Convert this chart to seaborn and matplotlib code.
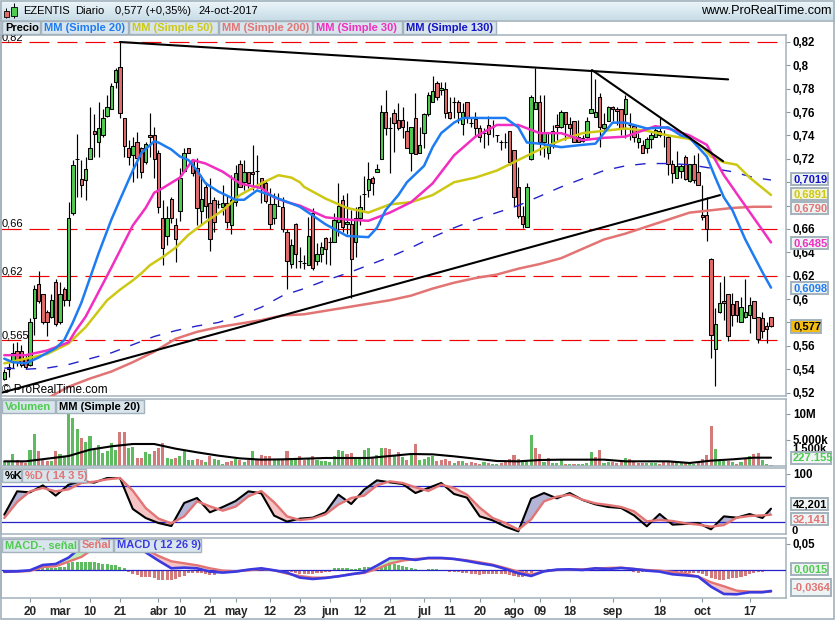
import numpy as np
import pandas as pd
import seaborn as sns
import matplotlib.pyplot as plt
from matplotlib.patches import Rectangle

# Data
opens = [.532,.540,.546,.556,.556,.550,.544,.584,.613,.604,
         .589,.585,.615,.580,.609,.599,.674,.720,.703,.702,
         .720,.744,.734,.740,.757,.763,.786,.799,.755,.729,
         .723,.734,.729,.717,.740,.740,.725,.669,.654,.686,
         .663,.675,.710,.729,.719,.712,.675,.696,.682,.685,
         .681,.679,.682,.663,.683,.716,.700,.709,.709,.710,
         .704,.699,.681,.669,.680,.679,.657,.630,.664,.633,
         .631,.629,.674,.633,.639,.652,.649,.649,.666,.685,
         .664,.664,.649,.669,.690,.693,.704,.709,.720,.760,
         .746,.759,.753,.753,.744,.725,.755,.725,.742,.758,
         .769,.785,.779,.780,.760,.769,.769,.750,.769,.751,
         .754,.746,.742,.749,.747,.740,.734,.734,.744,.728,
         .696,.671,.662,.720,.763,.769,.734,.725,.731,.749,
         .747,.760,.750,.752,.739,.735,.739,.759,.756,.773,
         .746,.752,.764,.763,.763,.758,.749,.748,.734,.732,
         .729,.737,.739,.744,.741,.739,.716,.704,.710,.722,
         .701,.716,.709,.672,.672,.634,.557,.589,.598,.604,
         .596,.598,.580,.585,.586,.598,.585,.584,.577,.585]
highs = [.540,.545,.562,.563,.561,.552,.584,.612,.624,.604,
         .591,.604,.617,.615,.610,.683,.719,.741,.719,.722,
         .764,.758,.769,.763,.775,.785,.798,.820,.755,.736,
         .739,.743,.730,.734,.759,.747,.728,.685,.680,.687,
         .669,.712,.729,.729,.719,.721,.706,.700,.704,.687,
         .685,.698,.689,.706,.715,.719,.719,.709,.732,.723,
         .704,.702,.695,.691,.691,.687,.660,.651,.665,.645,
         .638,.670,.678,.648,.649,.653,.653,.674,.699,.689,
         .691,.676,.679,.689,.705,.717,.705,.716,.766,.779,
         .756,.763,.768,.764,.752,.747,.776,.747,.759,.777,
         .791,.787,.786,.786,.773,.773,.770,.768,.769,.756,
         .760,.749,.746,.757,.753,.740,.736,.742,.744,.728,
         .713,.680,.699,.775,.798,.775,.775,.742,.749,.758,
         .762,.760,.756,.752,.753,.740,.756,.796,.788,.776,
         .759,.765,.765,.764,.763,.775,.759,.749,.742,.736,
         .739,.743,.746,.755,.745,.740,.719,.727,.716,.723,
         .716,.723,.725,.698,.687,.635,.592,.615,.620,.604,
         .605,.598,.602,.617,.602,.598,.585,.589,.580,.585]
lows = [.531,.533,.541,.543,.542,.540,.543,.569,.597,.579,
        .568,.584,.577,.579,.594,.594,.672,.687,.687,.685,
        .720,.722,.722,.739,.756,.763,.781,.755,.722,.715,
        .700,.704,.704,.716,.722,.704,.674,.629,.646,.665,
        .632,.667,.709,.725,.705,.663,.663,.669,.641,.657,
        .678,.672,.661,.656,.680,.696,.693,.695,.693,.695,
        .682,.682,.660,.664,.680,.657,.609,.627,.627,.627,
        .626,.629,.625,.629,.632,.630,.629,.649,.654,.657,
        .656,.601,.636,.663,.676,.687,.689,.709,.720,.740,
        .708,.726,.745,.738,.729,.710,.724,.725,.729,.757,
        .769,.770,.775,.755,.754,.755,.751,.740,.751,.747,
        .739,.734,.729,.732,.739,.734,.728,.729,.715,.680,
        .669,.661,.662,.719,.763,.723,.722,.720,.729,.736,
        .746,.736,.738,.734,.734,.734,.738,.759,.756,.730,
        .745,.752,.752,.749,.740,.738,.736,.734,.729,.725,
        .725,.729,.739,.739,.730,.706,.699,.704,.704,.702,
        .700,.699,.698,.668,.650,.550,.526,.588,.582,.564,
        .577,.580,.580,.584,.571,.584,.562,.567,.562,.576]
closes = [.538,.542,.554,.546,.544,.542,.580,.609,.598,.580,
          .580,.599,.579,.604,.599,.669,.715,.720,.698,.711,
          .729,.741,.746,.755,.764,.782,.796,.759,.731,.722,
          .731,.721,.709,.733,.739,.720,.679,.644,.669,.669,
          .651,.704,.725,.725,.708,.678,.686,.680,.651,.666,
          .681,.682,.666,.685,.708,.696,.709,.699,.707,.710,
          .695,.684,.664,.681,.680,.660,.633,.646,.639,.633,
          .631,.654,.627,.639,.645,.643,.649,.668,.680,.662,
          .666,.634,.669,.679,.690,.703,.699,.711,.760,.746,
          .746,.751,.746,.747,.729,.747,.724,.732,.758,.775,
          .778,.773,.781,.759,.755,.769,.760,.760,.756,.751,
          .746,.739,.742,.741,.747,.740,.734,.734,.717,.687,
          .671,.664,.696,.773,.769,.734,.742,.733,.744,.747,
          .760,.750,.746,.734,.734,.738,.752,.763,.760,.747,
          .750,.764,.763,.761,.746,.771,.749,.739,.738,.725,
          .737,.740,.745,.740,.741,.716,.708,.714,.714,.703,
          .716,.702,.698,.670,.660,.569,.579,.597,.597,.568,
          .586,.586,.593,.589,.595,.584,.566,.573,.574,.577]

ma_days = list(range(0, 180, 5)) + [179]
mm20_days = [0,2,5,8,12,14,16,18,20,22,25,27,30,32,35,36,39,41,43,45,47,50,54,56,59,62,64,69,75,80,85,87,89,92,
             94,96,98,100,102,105,107,115,117,120,122,125,130,135,138,140,142,145,150,155,158,160,164,166,168,
             170,173,177,179]
mm20 = [.549,.546,.545,.550,.558,.565,.580,.597,.618,.639,.668,.685,.710,.725,.735,.734,.728,.722,.719,.710,.699,
        .692,.685,.685,.693,.689,.686,.679,.664,.654,.653,.661,.676,.689,.700,.707,.714,.730,.742,.751,.755,.755,
        .755,.747,.734,.733,.730,.732,.733,.742,.751,.751,.746,.747,.740,.738,.722,.704,.687,.676,.651,.623,.6098]
mm30_days = [0,5,10,15,16.5,19,22,25,30,33,35,37,41,44,47,51,55,60,63,66,69,75,80,85,90,95,100,105,110,115,120,125,
             130,135,140,145,152,155,160,164,166,168,172,177,179]
mm30 = [.552,.552,.556,.563,.572,.585,.606,.627,.663,.678,.691,.695,.704,.719,.716,.709,.699,.695,.687,.683,.680,
        .670,.668,.667,.674,.683,.699,.723,.739,.749,.749,.742,.742,.736,.738,.739,.748,.746,.740,.732,.719,.706,
        .685,.659,.6485]
mm50_days = [0,5,10,15,19,24,27,30,32,34,37,40,43,47,51,55,60,64,67,69,70,75,80,85,90,95,100,105,110,115,120,125,
             130,135,140,145,150,155,160,163,165,168,171,174,179]
mm50 = [.545,.549,.553,.562,.576,.599,.608,.616,.622,.629,.636,.644,.655,.666,.676,.689,.699,.706,.704,.700,.696,
        .686,.678,.674,.681,.683,.689,.700,.704,.710,.719,.728,.736,.742,.744,.746,.744,.740,.737,.730,.722,.717,
        .715,.704,.6891]
mm130 = [.541,.540,.541,.544,.549,.554,.561,.568,.573,.577,.580,.586,.593,.603,.609,.616,.622,.629,.636,
         .644,.653,.661,.668,.674,.680,.688,.696,.703,.710,.714,.716,.716,.715,.712,.709,.704,.7019]
mm200 = [.503,.509,.515,.525,.532,.538,.546,.555,.566,.572,.576,.579,.582,.586,.587,.590,.593,.596,.599,
         .603,.609,.614,.618,.621,.626,.630,.635,.643,.651,.656,.662,.668,.674,.676,.678,.679,.6790]
red_levels = [.82, .66, .62, .565]
trend_days = [[27, 169], [-0.5, 167.1], [137.2, 167.8]]
trend_vals = [[.820, .788], [.520, .689], [.796, .718]]

volume = [.90,.96,2.37,1.09,.96,.58,3.01,6.09,2.82,1.41,.96,.90,2.82,2.37,1.73,11.5,9.23,7.05,5.38,4.62,
          5.71,3.01,4.10,2.5,2.82,4.42,3.01,6.47,6.47,3.53,3.65,1.54,1.54,2.69,2.37,2.82,3.46,4.42,1.54,1.41,
          1.6,1.86,2.82,1.09,1.09,1.41,1.09,.77,1.92,1.41,1.15,.45,.77,.96,1.41,1.22,.77,1.09,2.82,1.28,
          2.05,1.86,1.86,1.09,1.09,1.09,2.82,1.54,1.28,1.86,1.09,1.6,1.86,1.09,.96,.96,.77,1.92,3.01,2.82,
          2.37,2.5,1.6,1.6,3.01,3.46,1.6,2.05,3.46,3.46,3.33,2.18,2.69,1.73,1.22,2.05,4.17,1.22,1.41,1.73,
          1.92,.96,1.09,1.28,.96,.51,.90,.96,.64,.71,.51,.38,.71,.51,.32,.32,.58,.90,1.28,2.05,
          1.28,.90,.96,5.90,3.46,2.24,.71,1.47,.51,.51,1.41,.32,.45,.32,.32,.32,.51,2.63,1.67,3.01,
          .58,.71,.71,.51,.77,1.47,1.28,.83,.64,.58,.64,.64,.64,.32,.77,.96,.77,.71,.51,.58,
          .83,.45,.58,1.28,2.05,7.69,3.21,1.41,.96,.96,.71,.38,.71,1.28,1.86,2.24,2.44,1.09,.32,.23]
vol_sides = ("gggrrrggrr" "rgrgggggrg" "gggggggrrg" "grrggrrrgg" "rggggrrgrg" "ggrrgrgrgr"
             "rrrggrrggr" "rgrggggggg" "rrggggrggr" "rgrgrgrggg" "grrrrgrgrr" "rrgrggrrrr"
             "rgggrrgrgg" "grgrggggrr" "ggrrrgrrrr" "gggrrrrggr" "ggrrrrgggr" "grgrgrrggg")
vol_mm20 = [.90,.90,1.41,1.92,3.14,3.78,4.23,4.23,3.33,2.63,1.99,1.47,1.22,1.28,1.41,1.54,1.54,1.54,1.92,
            2.31,2.24,1.86,1.41,.96,.90,1.15,1.22,1.22,1.22,.90,.90,.90,.58,1.03,1.28,1.60,1.60]

osc_days = list(range(0, 178, 3)) + [179]
stoch_k = [32.2,71.1,69.4,81.1,63.9,82.2,88.3,85.6,93.3,93.3,41.7,26.7,18.3,13.3,51.7,60,36.1,45,55,71.1,
           67.8,30.6,20.6,25.6,27.2,36.1,65.6,50,73.9,89.4,86.1,83.3,68.3,76.7,85,66.7,60.6,29.4,22.8,12.2,
           4.4,58.9,68.3,59.4,68.3,56.7,49.4,45,43.3,31.1,12.8,33.3,15.6,16.7,18.3,7.8,29.4,27.2,33.3,26.7,42.2]
stoch_d = [26.7,53.3,71.1,76.7,71.1,74.4,85,87.2,91.1,93.3,72.2,43.3,25.6,17.8,29.4,54.4,46.1,38.9,45.6,62.8,
           71.7,52.8,29.4,23.3,25.6,32.8,48.9,60,63.9,81.1,87.8,85,77.8,71.7,82.2,76.7,65.6,43.9,26.7,18.3,
           7.2,24.4,54.4,62.2,65.6,57.2,51.1,48.3,45,37.8,21.1,23.3,21.7,17.8,15.6,12.2,15,27.2,30,31.1,32.1]
macd_line = [-.0025,-.0019,0,.0101,.0120,.0241,.0444,.0545,.0609,.0609,.0514,.0342,.0184,.0038,.0051,.0038,
             -.0025,-.0044,-.0025,.0013,.0038,0,-.0044,-.0139,-.0165,-.0146,-.0114,-.0076,-.0038,.0089,.0228,
             .0228,.0197,.0235,.0235,.0216,.0178,.0133,.0095,.0025,-.0057,-.0108,-.0019,.0013,.0019,.0006,.0038,
             .0025,.0044,.0025,-.0006,-.0025,-.0076,-.0095,-.0120,-.0311,-.0450,-.0456,-.0418,-.0418,-.0393]
macd_signal = [-.0032,-.0025,-.0013,.0063,.0076,.0165,.0254,.0418,.0495,.0514,.0482,.0399,.0273,.0171,.0133,.0095,
               .0038,-.0006,-.0019,0,.0025,0,-.0063,-.0108,-.0139,-.0139,-.0114,-.0070,-.0051,.0025,.0127,
               .0184,.0216,.0228,.0228,.0216,.0190,.0152,.0108,.0044,-.0025,-.0082,-.0019,.0006,.0013,.0019,.0032,
               .0044,.0051,.0025,.0006,-.0006,-.0032,-.0063,-.0120,-.0228,-.0304,-.0387,-.0406,-.0406,-.0406]
macd_hist = [0,0,0,0,0,0,.0002,.0004,.0038,.0044,.0051,.0051,.0051,.0057,.0070,.0133,.0152,.0165,.0165,.0152,
             .0152,.0152,.0146,.0120,.0120,.0101,.0101,.0070,.0038,-.0038,-.0070,-.0089,-.0120,-.0120,-.0120,-.0139,-.0184,-.0184,-.0184,-.0184,
             -.0171,-.0120,-.0101,-.0057,-.0057,-.0057,-.0057,-.0063,-.0089,-.0089,-.0057,-.0038,-.0025,0,0,.0006,.0013,.0019,.0025,.0025,
             .0019,.0013,.0006,0,-.0006,-.0006,-.0025,-.0025,-.0051,-.0063,-.0076,-.0076,-.0076,-.0051,-.0044,-.0032,-.0025,.0038,.0044,.0044,
             .0038,.0032,.0025,.0038,.0057,.0063,.0063,.0070,.0089,.0120,.0133,.0114,.0101,.0082,.0063,.0051,.0025,.0013,0,.0025,
             .0025,.0025,.0006,0,-.0025,-.0025,-.0032,-.0044,-.0057,-.0070,-.0076,-.0089,-.0076,-.0070,-.0070,-.0070,-.0063,-.0076,-.0095,-.0114,
             -.0127,-.0120,-.0114,-.0057,-.0013,-.0006,.0006,.0025,.0006,0,.0006,.0006,.0006,.0006,.0006,.0006,.0006,.0006,.0006,.0006,
             0,0,-.0006,-.0006,0,0,-.0006,-.0025,-.0044,-.0038,-.0038,-.0038,-.0038,-.0025,-.0025,-.0025,-.0025,-.0038,-.0038,-.0044,
             -.0044,-.0044,-.0057,-.0070,-.0108,-.0152,-.0171,-.0184,-.0184,-.0171,-.0152,-.0139,-.0120,-.0101,-.0076,-.0044,-.0025,-.0025,-.0006,.0015]

price_ticks = [.52,.54,.56,.58,.60,.62,.64,.66,.68,.70,.72,.74,.76,.78,.80,.82]
price_ticklabels = ['0,52','0,54','0,56','','0,6','0,62','0,64','0,66','','','0,72','0,74','0,76','0,78','0,8','0,82']
date_ticks = [6,13,20,27,36,41,48,54,62,69,76,83,90,98,104,111,119,125,132,142,153,163,174]
date_labels = ['20','mar','10','21','abr','10','21','may','12','23','jun','12','21','jul','11','20','ago','09','18','sep','18','oct','17']

GREEN = '#4FCB4F'
RED = '#E26B6B'
BLUE = '#1E7CF2'
YELLOW = '#CDC814'
SALMON = '#E27474'
MAGENTA = '#F22EC0'
DKBLUE = '#2222C8'
EDGE = '#A3B2BC'
W, H = 835, 620

sns.set_theme(style='white')
plt.rcParams['font.family'] = ['Liberation Sans', 'DejaVu Sans']
plt.rcParams['lines.scale_dashes'] = False

fig = plt.figure(figsize=(W / 100, H / 100), dpi=100, facecolor='white')


def panel(top, bottom):
    ax = fig.add_axes([1 / W, 1 - bottom / H, 785 / W, (bottom - top) / H])
    for s in ax.spines.values():
        s.set_color(EDGE)
        s.set_linewidth(1.1)
    return ax


def line(ax, x, y, color, lw, z=4, **kw):
    sns.lineplot(x=x, y=y, ax=ax, color=color, linewidth=lw, zorder=z, errorbar=None,
                 estimator=None, sort=False, legend=False, **kw)


ax_p = panel(35, 396)
ax_v = panel(399, 466)
ax_s = panel(468, 534)
ax_m = panel(538, 598)

# price panel
days = np.arange(len(closes))
o, h, l, c = map(np.array, (opens, highs, lows, closes))
up = c >= o
ax_p.vlines(days, l, h, color='black', lw=0.85, zorder=2)
ax_p.bar(days, np.abs(c - o), bottom=np.minimum(o, c), width=0.8,
         color=np.where(up, GREEN, RED), edgecolor='black', linewidth=0.75, zorder=3)
ax_p.hlines(red_levels, -0.77, 180.4, color='#F00000', lw=0.85,
            linestyle=(0, (14.4, 5.76)), zorder=1)
line(ax_p, ma_days, mm200, SALMON, 1.8)
line(ax_p, ma_days, mm130, DKBLUE, 1.0, linestyle=(0, (7.5, 8.0)))
line(ax_p, mm50_days, mm50, YELLOW, 1.8)
line(ax_p, mm30_days, mm30, MAGENTA, 1.8)
line(ax_p, mm20_days, mm20, BLUE, 1.8)
for tx, ty in zip(trend_days, trend_vals):
    line(ax_p, tx, ty, 'black', 1.5, z=5)
ax_p.set_ylim(.82 - 361 / 1168.6 + 7 / 1168.6, .82 + 7 / 1168.6)
ax_p.yaxis.tick_right()
ax_p.set_yticks(price_ticks, price_ticklabels)

# volume panel
vol_df = pd.DataFrame({'day': days, 'vol': volume, 'side': list(vol_sides)})
sns.barplot(data=vol_df, x='day', y='vol', hue='side', palette={'g': GREEN, 'r': RED}, ax=ax_v,
            native_scale=True, dodge=False, errorbar=None, legend=False, width=0.72, linewidth=0)
line(ax_v, ma_days, vol_mm20, 'black', 1.5)
ax_v.set_ylim(0, 67 / 5.2)
ax_v.yaxis.tick_right()
ax_v.set_yticks([5, 10], ['5.000k', '10M'])

# stochastic panel
ax_s.fill_between(osc_days, stoch_k, stoch_d, where=np.array(stoch_k) >= np.array(stoch_d),
                  interpolate=True, color='#B4B4D6', lw=0, zorder=1)
ax_s.fill_between(osc_days, stoch_k, stoch_d, where=np.array(stoch_k) <= np.array(stoch_d),
                  interpolate=True, color='#F6C4C4', lw=0, zorder=1)
ax_s.hlines([80, 20], -1, 183, color=DKBLUE, lw=0.9, zorder=2)
line(ax_s, osc_days, stoch_k, 'black', 1.5)
line(ax_s, osc_days, stoch_d, SALMON, 1.7, z=5)
ax_s.set_ylim(0, 110)
ax_s.yaxis.tick_right()
ax_s.set_yticks([100], ['100'])

# MACD panel
hist_df = pd.DataFrame({'day': days, 'val': macd_hist,
                        'side': ['g' if v >= 0 else 'r' for v in macd_hist]})
sns.barplot(data=hist_df, x='day', y='val', hue='side', palette={'g': GREEN, 'r': RED}, ax=ax_m,
            native_scale=True, dodge=False, errorbar=None, legend=False, width=0.72, linewidth=0)
ax_m.fill_between(osc_days, macd_line, macd_signal, where=np.array(macd_line) >= np.array(macd_signal),
                  interpolate=True, color='#BDEFB4', lw=0, zorder=1)
ax_m.fill_between(osc_days, macd_line, macd_signal, where=np.array(macd_line) <= np.array(macd_signal),
                  interpolate=True, color='#F6C4C4', lw=0, zorder=1)
ax_m.hlines([0], -1, 183, color=DKBLUE, lw=0.9, zorder=3)
line(ax_m, osc_days, macd_signal, SALMON, 1.7)
line(ax_m, osc_days, macd_line, '#3A3AE0', 1.9, z=5)
ax_m.set_ylim(-27.7 / 526, 32.3 / 526)
ax_m.yaxis.tick_right()
ax_m.set_yticks([.05], ['0,05'])

for ax in (ax_p, ax_v, ax_s, ax_m):
    ax.set_xlim(-0.77, 182.5)
    ax.set_xlabel('')
    ax.set_ylabel('')
    ax.tick_params(axis='y', right=True, length=3, width=0.8, color='#8A98A2', pad=2,
                   labelsize=8.3, labelcolor='black')
    for t in ax.get_yticklabels():
        t.set_fontweight('bold')
    if ax is not ax_m:
        ax.set_xticks([])
ax_m.set_xticks(date_ticks, date_labels)
ax_m.tick_params(axis='x', bottom=True, length=3, width=0.8, color='#8A98A2', pad=3,
                 labelsize=8.5)
for t in ax_m.get_xticklabels():
    t.set_fontweight('bold')

# app chrome on top, in pixels
ui = fig.add_axes([0, 0, 1, 1], zorder=10)
ui.patch.set_visible(False)
ui.axis('off')
grad = np.linspace(0, 1, 20).reshape(-1, 1)
ui.imshow(grad, extent=(0, W, 20, 0), aspect='auto', zorder=0,
          cmap=plt.matplotlib.colors.LinearSegmentedColormap.from_list('bar', ['#EDF6FA', '#C9DDE8']))
ui.set_xlim(0, W)
ui.set_ylim(H, 0)


def box(x0, y0, x1, y1, face, edge=EDGE, lw=1.0, z=2):
    ui.add_patch(Rectangle((x0, y0), x1 - x0, y1 - y0, facecolor=face, edgecolor=edge, linewidth=lw, zorder=z))


def label(x, y, s, color='black', weight='normal', size=8, ha='left', z=3):
    ui.text(x, y, s, color=color, fontweight=weight, fontsize=size, ha=ha, va='center', zorder=z)


def button(x0, x1, y0, s, color):
    box(x0, y0, x1, y0 + 13, '#D9E5EC')
    label(x0 + 3, y0 + 6.7, s, color, 'bold')


def value_box(y, s, color, face='#EEF3F4', x1=828):
    box(791, y - 6, x1, y + 6, face, lw=1.4)
    label(793, y + 0.3, s, color, 'bold')


box(0, 20, W, 20.5, '#9FB0BA', lw=0.5)
ui.vlines(6, 8, 18, color='black', lw=0.7, zorder=2)
box(4, 11, 9, 17, RED, edge='black', lw=0.6, z=3)
ui.vlines(14, 3, 18, color='black', lw=0.7, zorder=2)
box(11, 7, 17, 16, GREEN, edge='black', lw=0.6, z=3)
label(23, 11, 'EZENTIS')
label(75, 11, 'Diario')
label(115, 11, '0,577 (+0,35%)')
label(198, 11, '24-oct-2017')
label(832, 11, 'www.ProRealTime.com', ha='right', size=9.1)

button(2, 40, 21, 'Precio', 'black')
button(41, 128, 21, 'MM (Simple 20)', BLUE)
button(129, 218, 21, 'MM (Simple 50)', YELLOW)
button(219, 312, 21, 'MM (Simple 200)', SALMON)
button(313, 402, 21, 'MM (Simple 30)', MAGENTA)
button(403, 496, 21, 'MM (Simple 130)', '#1414C8')

label(2, 37, '0,82', size=8, z=1)
label(2, 224, '0,66', size=8)
label(2, 271, '0,62', size=8)
label(2, 335, '0,565', size=8)
label(2, 390, '© ProRealTime.com', size=8.5)

button(2, 55, 400, 'Volumen', GREEN)
button(56, 144, 400, 'MM (Simple 20)', 'black')
button(2, 21, 469, '%K', 'black')
button(22, 86, 469, '%D ( 14 3 5)', SALMON)
button(2, 78, 538.5, 'MACD-, señal', GREEN)
button(79, 113, 538.5, 'Señal', SALMON)
button(114, 201, 538.5, 'MACD ( 12 26 9)', '#3A3AE0')

label(792, 449.5, '1.500k', weight='bold', z=1)
label(792, 531, '0', weight='bold', z=1)

value_box(179, '0,7019', '#1414C8')
value_box(194, '0,6891', YELLOW, '#F4F4D8')
value_box(208, '0,6790', SALMON)
value_box(243, '0,6485', MAGENTA)
value_box(288, '0,6098', BLUE)
box(791, 320, 821, 333, '#F2BE14', lw=1.4)
label(793, 326.8, '0,577', 'black', 'bold')
value_box(457.5, '227.155', GREEN, x1=831)
value_box(504, '42,201', 'black', '#F2F5F6')
value_box(519, '32,141', SALMON)
value_box(569, '0,0015', GREEN)
box(791, 579, 831, 596, '#EEF3F4', lw=1.4)
label(793, 588, '-0,0364', SALMON, 'bold')

box(0.5, 0.5, W - 1, H - 1, 'none', lw=1.2, z=4)

fig.savefig('out.png', dpi=100, facecolor='white')
